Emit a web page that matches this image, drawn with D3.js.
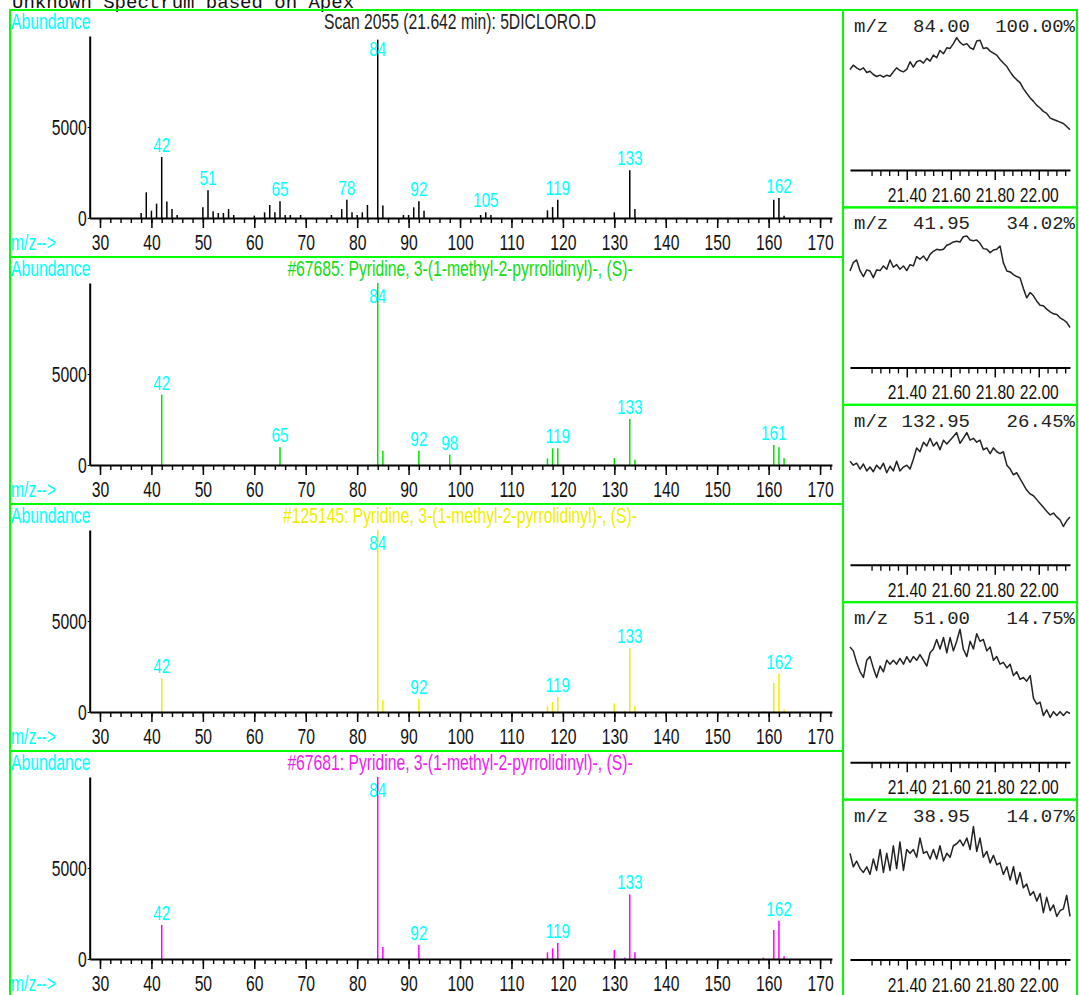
<!DOCTYPE html>
<html>
<head>
<meta charset="utf-8">
<script src="https://cdn.jsdelivr.net/npm/d3@7"></script>
<style>
  html, body { margin: 0; padding: 0; background: #fff; overflow: hidden; }
</style>
</head>
<body>
<script>
// ---------------- DATA ----------------
const pageTitle = "Unknown Spectrum based on Apex";

const spectrumTitles = [
  "Scan 2055 (21.642 min): 5DICLORO.D",
  "#67685: Pyridine, 3-(1-methyl-2-pyrrolidinyl)-, (S)-",
  "#125145: Pyridine, 3-(1-methyl-2-pyrrolidinyl)-, (S)-",
  "#67681: Pyridine, 3-(1-methyl-2-pyrrolidinyl)-, (S)-"
];

// sample scan
const sampleMz = [38,39,40,41,42,43,44,45,50,51,52,53,54,55,56,60,62,63,64,65,66,67,69,75,77,78,79,80,81,82,84,85,89,90,91,92,93,104,105,106,117,118,119,130,133,134,161,162,163];
const sampleAb = [275,1410,400,790,3350,900,490,165,585,1520,365,275,275,495,165,130,310,715,310,915,165,165,165,165,495,1005,310,165,310,715,9800,680,165,165,585,915,400,165,310,165,420,600,1000,310,2620,490,1000,1100,130];
const sampleLabels = [42,51,65,78,84,92,105,119,133,162];

// library hit #67685
const lib67685Mz = [42,65,84,85,92,98,117,118,119,130,133,134,161,162,163];
const lib67685Ab = [3865,970,9999,785,785,570,365,915,915,385,2530,290,1100,970,385];
const lib67685Labels = [42,65,84,92,98,119,133,161];

// library hit #125145
const lib125145Mz = [42,84,85,92,117,118,119,130,132,133,134,159,161,162,163];
const lib125145Ab = [1850,9999,640,730,330,550,840,475,55,3500,330,55,1590,2100,145];
const lib125145Labels = [42,84,92,119,133,162];

// library hit #67681
const lib67681Mz = [42,84,85,92,117,118,119,130,132,133,134,159,161,162,163];
const lib67681Ab = [1870,9999,660,770,365,585,880,495,75,3550,365,75,1590,2100,145];
const lib67681Labels = [42,84,92,119,133,162];

const mzMajorTicks = [30,40,50,60,70,80,90,100,110,120,130,140,150,160,170];
const abundanceTicks = [0, 5000];

// extracted ion chromatograms (retention time in min, relative abundance %)
const scanTimes = [
  21.142,21.157,21.172,21.188,21.203,21.218,21.233,21.248,21.263,21.279,
  21.294,21.309,21.324,21.339,21.354,21.369,21.385,21.400,21.415,21.430,
  21.445,21.460,21.476,21.491,21.506,21.521,21.536,21.551,21.567,21.582,
  21.597,21.612,21.627,21.642,21.657,21.673,21.688,21.703,21.718,21.733,
  21.748,21.764,21.779,21.794,21.809,21.824,21.839,21.855,21.870,21.885,
  21.900,21.915,21.930,21.945,21.961,21.976,21.991,22.006,22.021,22.036,
  22.052,22.067,22.082,22.097,22.112,22.127,22.142
];
const eic84 = [
  75.6,78.8,76.8,75.3,76.8,73.3,74.3,71.8,70.3,71.3,
  69.8,71.3,70.5,73.8,76.8,74.8,73.8,75.6,81.4,77.3,
  81.4,82.4,80.4,83.9,81.9,86.4,84.4,89.9,87.4,91.9,
  91.4,95.0,99.5,96.0,94.0,95.0,91.9,90.7,97.0,97.5,
  91.4,91.9,89.4,87.9,86.4,83.1,80.4,77.8,73.8,70.3,
  67.8,65.7,61.2,57.7,54.2,51.6,48.6,46.6,44.1,42.6,
  39.0,38.0,37.0,36.0,35.0,32.7,30.2
];
const eic42 = [
  72.5,78.8,80.8,72.5,68.3,73.3,72.5,67.5,73.3,72.8,
  76.3,73.8,80.8,75.3,77.3,73.8,76.3,72.8,77.3,76.3,
  83.3,81.3,83.8,80.3,85.0,87.3,88.8,88.3,88.8,91.8,
  92.8,94.3,94.8,94.3,98.3,98.8,95.8,95.3,95.8,93.3,
  89.3,88.8,86.3,88.3,88.8,91.3,78.8,72.5,71.8,69.8,
  68.3,67.3,59.3,52.3,56.3,53.8,49.8,46.8,46.3,43.8,
  41.8,40.3,39.8,37.3,35.8,33.8,30.0
];
const eic133 = [
  77.8,74.9,76.4,72.0,75.8,70.6,73.5,70.0,74.9,72.0,
  76.4,69.2,74.1,70.6,77.8,70.6,73.5,74.9,72.0,79.3,
  87.9,85.0,92.2,89.3,95.1,89.3,92.2,86.5,93.7,90.8,
  93.7,96.5,99.4,91.4,95.1,99.4,93.7,95.1,92.2,93.7,
  86.5,87.9,83.6,87.9,85.0,83.6,85.0,74.9,72.0,67.7,
  69.2,64.8,60.5,56.2,53.3,51.9,49.0,46.1,43.2,40.3,
  37.5,38.9,36.0,33.7,28.8,33.1,36.0
];
const eic51 = [
  86.6,83.7,75.1,68.0,63.7,76.6,79.4,70.9,63.7,72.3,
  68.0,76.6,73.7,76.6,73.7,78.0,73.7,79.4,75.1,79.4,
  76.6,80.9,76.6,72.3,82.3,85.1,92.3,85.1,93.7,82.3,
  93.7,83.7,90.9,100.0,85.1,79.4,90.9,85.1,96.6,90.9,
  92.3,83.7,86.6,76.6,79.4,73.7,75.1,70.9,73.7,65.1,
  68.0,62.3,63.7,60.9,65.1,48.0,43.7,45.1,35.1,39.4,
  33.7,38.0,35.1,38.0,35.1,38.0,36.6
];
const eic39 = [
  79.9,69.8,74.1,68.4,65.5,69.8,64.1,75.6,67.0,82.8,
  65.5,79.9,67.0,85.6,68.4,88.5,67.0,82.8,79.9,82.8,
  77.0,91.4,79.9,81.3,75.6,82.8,75.6,85.6,74.1,79.9,
  77.0,85.6,87.1,89.9,85.6,91.4,82.8,100.0,81.3,91.4,
  77.0,81.3,72.7,78.4,71.3,72.7,64.1,69.8,59.8,69.8,
  56.9,65.5,54.0,56.9,48.3,51.1,44.0,49.7,35.3,46.8,
  36.8,41.1,32.5,36.8,38.2,48.3,32.5
];
const eicIons = ["84.00","41.95","132.95","51.00","38.95"];
const eicPercents = ["100.00%","34.02%","26.45%","14.75%","14.07%"];
const timeMajorTicks = [21.40, 21.60, 21.80, 22.00];
const timeMinorTicks = [21.24,21.28,21.32,21.36,21.44,21.48,21.52,21.56,21.64,21.68,21.72,21.76,21.84,21.88,21.92,21.96,22.04,22.08,22.12];

// ---------------- DRAWING ----------------
const W = 1079, H = 995;
const SANS = '"Liberation Sans", Arial, sans-serif';
const MONO = '"Liberation Mono", "Courier New", monospace';
const CYAN = '#00ffff';
const BORDER = '#00ff00';

const svg = d3.select('body').append('svg').attr('width', W).attr('height', H)
  .style('display', 'block');
svg.append('rect').attr('width', W).attr('height', H).attr('fill', '#fff');

function sans(g, x, y, s, o = {}) {
  return g.append('text')
    .attr('transform', `translate(${x},${y}) scale(${o.sx ?? 0.73},${o.sy ?? 1})`)
    .attr('text-anchor', o.anchor || 'start')
    .attr('font-family', SANS)
    .attr('font-size', o.size || 21.5)
    .attr('fill', o.fill || '#111')
    .text(s);
}

// page title (cut off at the top)
svg.append('text').attr('x', 12).attr('y', 7.5)
  .attr('font-family', MONO).attr('font-size', 19).attr('fill', '#111')
  .text(pageTitle);

const spectra = [
  { mz: sampleMz, ab: sampleAb, labels: sampleLabels, color: '#000', tcolor: '#222' },
  { mz: lib67685Mz, ab: lib67685Ab, labels: lib67685Labels, color: '#00e000', tcolor: '#11dd11' },
  { mz: lib125145Mz, ab: lib125145Ab, labels: lib125145Labels, color: '#eeee00', tcolor: '#eeee00' },
  { mz: lib67681Mz, ab: lib67681Ab, labels: lib67681Labels, color: '#ff00ff', tcolor: '#ee22ee' }
];

const x = d3.scaleLinear().domain([28, 172.3]).range([89.7, 831.9]);

spectra.forEach((sp, i) => {
  const top = 10 + 247 * i;
  const g = svg.append('g');
  const y = d3.scaleLinear().domain([0, 10000]).range([top + 208, top + 26]);

  // bars
  g.selectAll('line.bar').data(d3.zip(sp.mz, sp.ab)).join('line')
    .attr('class', 'bar')
    .attr('x1', d => x(d[0])).attr('x2', d => x(d[0]))
    .attr('y1', y(0)).attr('y2', d => y(d[1]))
    .attr('stroke', sp.color).attr('stroke-width', 1.5);

  // minor x ticks
  const minor = g.append('g').attr('transform', `translate(0,${y(0)})`)
    .call(d3.axisBottom(x).tickValues(d3.range(30, 173, 2)).tickSize(5).tickSizeOuter(0).tickFormat(''));
  minor.select('.domain').remove();
  minor.selectAll('line').attr('stroke', '#000').attr('stroke-width', 1.4);

  // major x axis
  const ax = g.append('g').attr('transform', `translate(0,${y(0)})`)
    .call(d3.axisBottom(x).tickValues(mzMajorTicks).tickSize(10).tickSizeOuter(0).tickFormat(d3.format('d')));
  ax.select('.domain').attr('stroke', '#000').attr('stroke-width', 2);
  ax.selectAll('line').attr('stroke', '#000').attr('stroke-width', 1.5);
  ax.attr('font-family', SANS).attr('font-size', 21.5);
  ax.selectAll('text').attr('y', null).attr('dy', null).attr('fill', '#111')
    .attr('transform', 'translate(0,32) scale(0.73,1)');

  // y axis
  const ay = g.append('g').attr('transform', `translate(${x(28)},0)`)
    .call(d3.axisLeft(y).tickValues(abundanceTicks).tickSize(2).tickSizeOuter(0).tickFormat(d3.format('d')));
  ay.select('.domain').attr('stroke', '#000').attr('stroke-width', 2);
  ay.selectAll('line').attr('stroke', '#000');
  ay.attr('font-family', SANS).attr('font-size', 21.5);
  ay.selectAll('text').attr('x', null).attr('dy', '0.36em').attr('fill', '#111')
    .attr('transform', 'translate(-3,0) scale(0.73,1)');

  // peak labels
  sp.labels.forEach(m => {
    const v = sp.ab[sp.mz.indexOf(m)];
    const by = Math.max(y(v) - 5, top + 46);
    sans(g, x(m), by, String(m), { anchor: 'middle', fill: CYAN, size: 21 });
  });

  // texts
  sans(g, 11, top + 19, 'Abundance', { fill: CYAN });
  sans(g, 460, top + 19, spectrumTitles[i], { anchor: 'middle', fill: sp.tcolor });
  sans(g, 11, y(0) + 32, 'm/z-->', { fill: CYAN });

  // border
  g.append('rect').attr('x', 10).attr('y', top).attr('width', 833).attr('height', 247)
    .attr('fill', 'none').attr('stroke', BORDER).attr('stroke-width', 2);
});

// ---------- chromatogram panels ----------
const eics = [eic84, eic42, eic133, eic51, eic39];
const xr = d3.scaleLinear().domain([21.142, 22.142]).range([850, 1070]);
const RH = 197.4;

eics.forEach((vals, i) => {
  const top = 10 + RH * i;
  const g = svg.append('g');
  const yr = d3.scaleLinear().domain([0, 100]).range([top + 160, top + 27]);

  const line = d3.line().x((d, k) => xr(scanTimes[k])).y(d => yr(d));
  g.append('path').datum(vals).attr('d', line)
    .attr('fill', 'none').attr('stroke', '#222').attr('stroke-width', 1.5)
    .attr('stroke-linejoin', 'round');

  const mn = g.append('g').attr('transform', `translate(0,${top + 160})`)
    .call(d3.axisBottom(xr).tickValues(timeMinorTicks).tickSize(6).tickSizeOuter(0).tickFormat(''));
  mn.select('.domain').remove();
  mn.selectAll('line').attr('stroke', '#000').attr('stroke-width', 1.3);

  const ax = g.append('g').attr('transform', `translate(0,${top + 160})`)
    .call(d3.axisBottom(xr).tickValues(timeMajorTicks).tickSize(10).tickSizeOuter(0).tickFormat(d3.format('.2f')));
  ax.select('.domain').attr('stroke', '#000').attr('stroke-width', 2);
  ax.selectAll('line').attr('stroke', '#000').attr('stroke-width', 1.5);
  ax.attr('font-family', SANS).attr('font-size', 19.5);
  ax.selectAll('text').attr('y', null).attr('dy', null).attr('fill', '#111')
    .attr('transform', 'translate(0,32) scale(0.8,1)');

  // header
  const hy = top + 22;
  g.append('text').attr('x', 854).attr('y', hy).attr('font-family', MONO).attr('font-size', 19)
    .attr('fill', '#222').text('m/z');
  g.append('text').attr('x', 970).attr('y', hy).attr('text-anchor', 'end').attr('font-family', MONO)
    .attr('font-size', 19).attr('fill', '#222').text(eicIons[i]);
  g.append('text').attr('x', 1075).attr('y', hy).attr('text-anchor', 'end').attr('font-family', MONO)
    .attr('font-size', 19).attr('fill', '#222').text(eicPercents[i]);

  g.append('rect').attr('x', 843).attr('y', top).attr('width', 234).attr('height', RH)
    .attr('fill', 'none').attr('stroke', BORDER).attr('stroke-width', 2);
});
</script>
</body>
</html>
